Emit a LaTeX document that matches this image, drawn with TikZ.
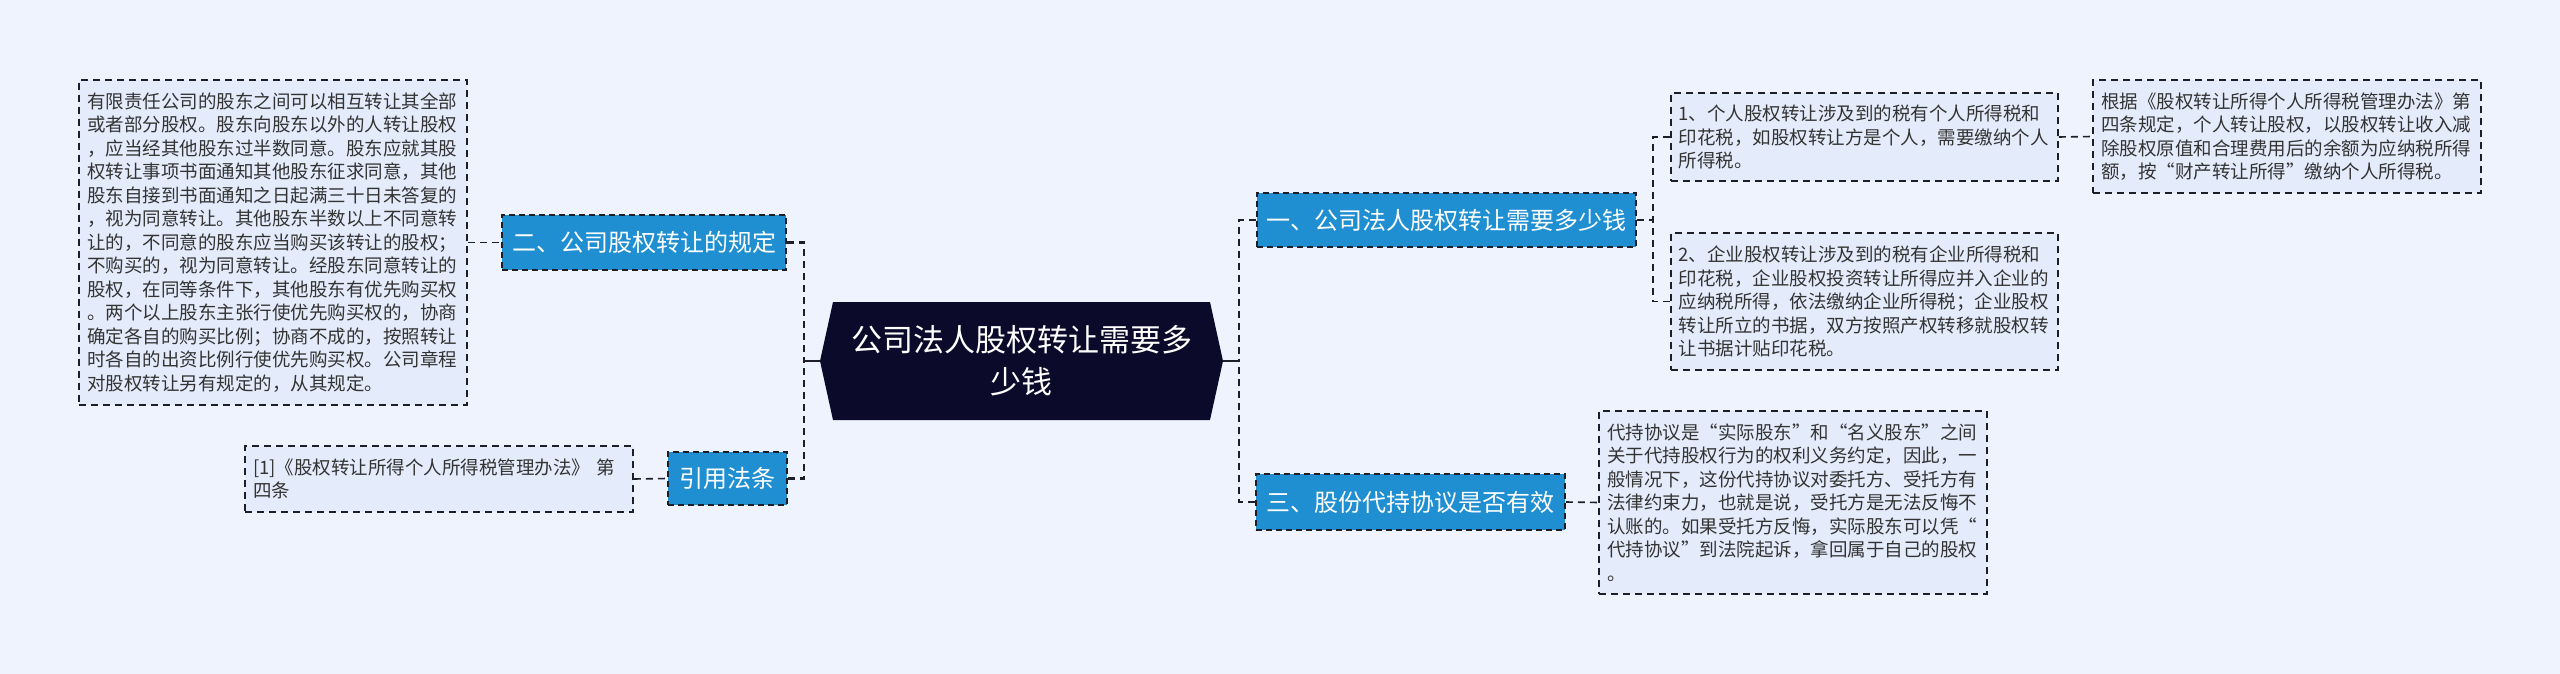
\documentclass[tikz,border=0pt]{standalone}
\usepackage{fontspec}
\setmainfont{Noto Sans CJK SC}
\usetikzlibrary{calc}
\definecolor{bgc}{RGB}{238,243,253}
\definecolor{boxfill}{RGB}{228,236,251}
\definecolor{bluen}{RGB}{31,143,210}
\definecolor{navy}{RGB}{12,10,42}
\definecolor{txt}{RGB}{51,51,51}
\definecolor{lnc}{RGB}{30,30,40}
\begin{document}
\begin{tikzpicture}[x=1pt,y=-1pt,
  txtbox/.style={draw=lnc, line width=1.6pt, dash pattern=on 7pt off 5pt, fill=boxfill, text=txt,
    font=\fontsize{18.5pt}{23.5pt}\selectfont, align=left, text width=372pt, inner sep=0pt,
    minimum width=388pt},
  topic/.style={draw=lnc, line width=1.6pt, dash pattern=on 6pt off 4pt, fill=bluen, text=white,
    font=\fontsize{24pt}{28pt}\selectfont, inner sep=0pt},
  conn/.style={draw=lnc, line width=2.5pt, dash pattern=on 7pt off 5pt},
  connthin/.style={draw=lnc, line width=1.6pt, dash pattern=on 7pt off 5pt},
  stub/.style={draw=lnc, line width=2.5pt}]
\fill[bgc] (0,0) rectangle (2560,674);
\useasboundingbox (0,0) rectangle (2560,674);

% central topic
\fill[navy] (833,302) -- (1210,302) -- (1223,361) -- (1210,420) -- (833,420) -- (820,361) -- cycle;
\node[text=white, font=\fontsize{31pt}{42pt}\selectfont, align=center, minimum width=377pt,
  minimum height=118pt, inner sep=0pt] (c) at (1021.5,361) {公司法人股权转让需要多\\少钱};
\coordinate (cl) at (820,361);
\coordinate (cr) at (1223,361);

% left side
\node[topic, minimum width=284pt, minimum height=55pt] (n2) at (644,242.5) {二、公司股权转让的规定};
\node[topic, minimum width=119pt, minimum height=53pt] (cite) at (727.5,478.5) {引用法条};
\node[txtbox, minimum height=325pt] (big) at (273,242.5) {有限责任公司的股东之间可以相互转让其全部\\
或者部分股权。股东向股东以外的人转让股权\\
，应当经其他股东过半数同意。股东应就其股\\
权转让事项书面通知其他股东征求同意，其他\\
股东自接到书面通知之日起满三十日未答复的\\
，视为同意转让。其他股东半数以上不同意转\\
让的，不同意的股东应当购买该转让的股权；\\
不购买的，视为同意转让。经股东同意转让的\\
股权，在同等条件下，其他股东有优先购买权\\
。两个以上股东主张行使优先购买权的，协商\\
确定各自的购买比例；协商不成的，按照转让\\
时各自的出资比例行使优先购买权。公司章程\\
对股权转让另有规定的，从其规定。};
\node[txtbox, minimum height=66pt] (citebox) at (439,479) {[1]《股权转让所得个人所得税管理办法》 第\\四条};

% right side
\node[topic, minimum width=379pt, minimum height=54pt] (n1) at (1446.5,220) {一、公司法人股权转让需要多少钱};
\node[topic, minimum width=309pt, minimum height=56pt] (n3) at (1410.5,502) {三、股份代持协议是否有效};
\node[txtbox, minimum width=387pt, minimum height=88pt] (c1) at (1864.5,137) {1、个人股权转让涉及到的税有个人所得税和\\
印花税，如股权转让方是个人，需要缴纳个人\\
所得税。};
\node[txtbox, minimum width=387pt, minimum height=137pt] (c2) at (1864.5,301.5) {2、企业股权转让涉及到的税有企业所得税和\\
印花税，企业股权投资转让所得应并入企业的\\
应纳税所得，依法缴纳企业所得税；企业股权\\
转让所立的书据，双方按照产权转移就股权转\\
让书据计贴印花税。};
\node[txtbox, minimum height=113pt] (far) at (2287,136.5) {根据《股权转让所得个人所得税管理办法》第\\
四条规定，个人转让股权，以股权转让收入减\\
除股权原值和合理费用后的余额为应纳税所得\\
额，按“财产转让所得”缴纳个人所得税。};
\node[txtbox, minimum height=183pt] (b3) at (1793,502.5) {代持协议是“实际股东”和“名义股东”之间\\
关于代持股权行为的权利义务约定，因此，一\\
般情况下，这份代持协议对委托方、受托方有\\
法律约束力，也就是说，受托方是无法反悔不\\
认账的。如果受托方反悔，实际股东可以凭“\\
代持协议”到法院起诉，拿回属于自己的股权\\
。};

% connectors
\coordinate (tl) at (804,361);
\coordinate (tr) at (1239,361);
\coordinate (r1) at (1653,220);
\draw[stub] (cl) -- (tl);
\draw[stub] (cr) -- (tr);
\draw[conn] (n2.east) -| (tl);
\draw[conn] (cite.east) -| (tl);
\draw[conn] (n1.west) -| (tr);
\draw[conn] (n3.west) -| (tr);
\draw[connthin] (big.east) -- (n2.west);
\draw[connthin] (citebox.east) -- (cite.west);
\draw[connthin] (n1.east) -- (r1);
\draw[connthin] (c1.west) -| (r1);
\draw[connthin] (c2.west) -| (r1);
\draw[connthin] (c1.east) -- (far.west);
\draw[connthin] (n3.east) -- (b3.west);
\end{tikzpicture}
\end{document}
